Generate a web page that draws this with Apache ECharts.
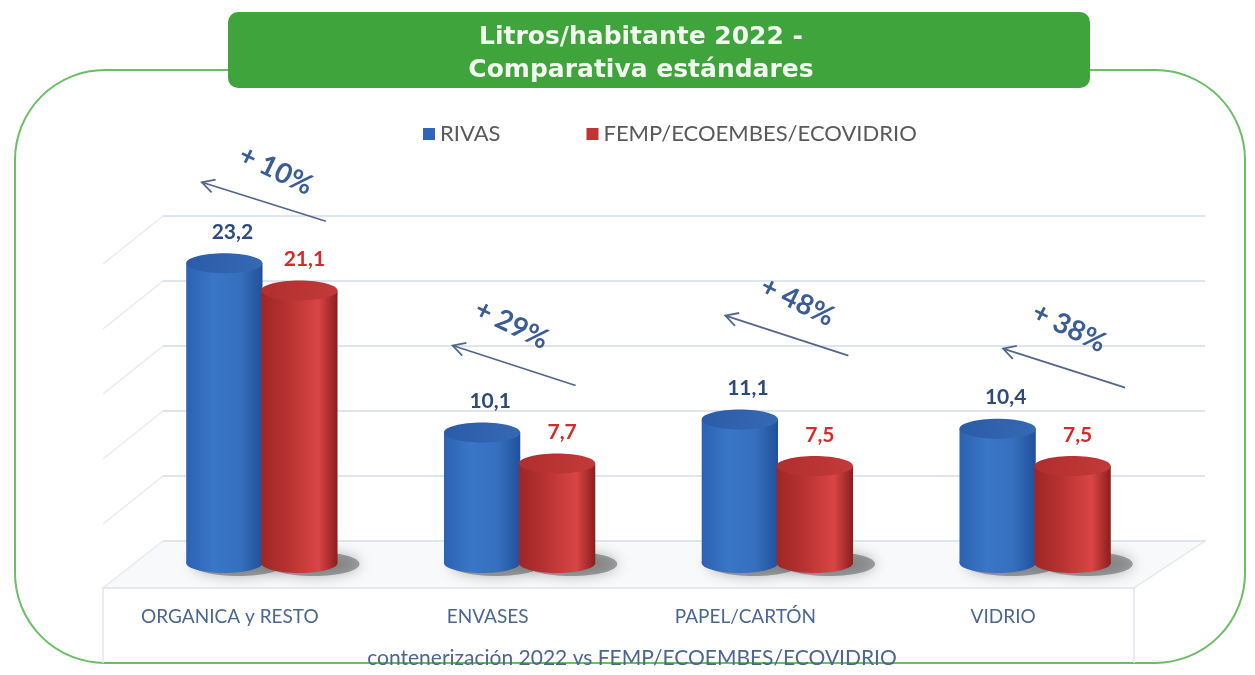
<!DOCTYPE html>
<html>
<head>
<meta charset="utf-8">
<script src="https://cdn.jsdelivr.net/npm/echarts@6/dist/echarts.min.js"></script>
<style>
html,body{margin:0;padding:0;background:#ffffff;}
#chart{width:1255px;height:675px;}
</style>
</head>
<body>
<div id="chart"></div>
<script>
// ---- data ----
const categories = ['ORGANICA y RESTO', 'ENVASES', 'PAPEL/CARTÓN', 'VIDRIO'];
const rivas = [23.2, 10.1, 11.1, 10.4];
const femp = [21.1, 7.7, 7.5, 7.5];
const increments = ['+ 10%', '+ 29%', '+ 48%', '+ 38%'];
const seriesNames = ['RIVAS', 'FEMP/ECOEMBES/ECOVIDRIO'];
const titleLines = ['Litros/habitante 2022 -', 'Comparativa estándares'];
const footnote = 'contenerización 2022 vs FEMP/ECOEMBES/ECOVIDRIO';
const axisMax = 25;
const axisStep = 5;

// ---- layout / style (not data) ----
const annotOffsets = [ // relative to (category centre, top of RIVAS cylinder)
  {t:[14, -93], h:[-60, -81], e:[64, -42]},
  {t:[-8, -108], h:[-67, -87], e:[56, -47]},
  {t:[20, -118], h:[-52, -104], e:[71, -64]},
  {t:[34, -101], h:[-32, -80], e:[90, -41]}
];
const labelColors = ['#2d4a78', '#d42a2a'];
const bodyStops = [
  [[0,'#2c62b2'],[0.35,'#3a76c6'],[0.7,'#3570bf'],[1,'#22509a']],
  [[0,'#9e2626'],[0.35,'#b83232'],[0.75,'#d94545'],[1,'#8c1e1e']]
];
const topFill = ['#2a5ba8', '#b02e2e'];
const legendColors = ['#2e66b8', '#c03434'];

function fmt(v){ return v.toFixed(1).replace('.', ','); }

function renderCyl(params, api){
  const si = params.seriesIndex;
  const cat = api.value(0), v = api.value(1);
  const band = api.size([1,0])[0];
  const w = band * 0.296;
  const base = api.coord([cat, 0]);
  const cx = base[0] + (si === 0 ? -1 : 1) * band * 0.1455;
  const yTop = api.coord([cat, v])[1];
  const yBot = base[1];
  const rx = w / 2, ry = 10;
  const grad = {type:'linear', x:0, y:0, x2:1, y2:0,
    colorStops: bodyStops[si].map(s => ({offset:s[0], color:s[1]}))};
  return {
    type:'group',
    children:[
      {type:'ellipse', shape:{cx:cx+14, cy:yBot+1, rx:rx+8, ry:ry+2},
       style:{fill:'rgba(80,80,80,0.5)', shadowBlur:14, shadowColor:'rgba(0,0,0,0.55)'}, z2:0},
      {type:'ellipse', shape:{cx:cx, cy:yBot, rx:rx, ry:ry}, style:{fill:grad}, z2:1},
      {type:'rect', shape:{x:cx-rx, y:yTop, width:w, height:yBot-yTop}, style:{fill:grad}, z2:2},
      {type:'ellipse', shape:{cx:cx, cy:yTop, rx:rx, ry:ry},
       style:{fill:{type:'linear', x:0, y:0, x2:1, y2:1, colorStops:[
         {offset:0, color:topFill[si]}, {offset:1, color: si===0 ? '#3669b4' : '#c43a3a'}]}}, z2:3},
      {type:'text', z2:4, style:{text: fmt(v), x: cx + (si===0 ? 8 : 5), y: yTop - ry - 21,
        align:'center', verticalAlign:'middle', fill: labelColors[si],
        font:'bold 21px Lato'}}
    ]
  };
}

const chart = echarts.init(document.getElementById('chart'), null, {renderer:'canvas'});
const backGrid = {left:163, right:50, top:216, bottom:134};
const barGrid = {left:133, right:91, top:240, bottom:112};

chart.setOption({
  animation:false,
  backgroundColor:'#ffffff',
  title:[
    {text: titleLines.join('\n'), left:641, textAlign:'center', top:21, padding:0,
     textStyle:{color:'#f2f8ef', fontFamily:'DejaVu Sans', fontSize:25, fontWeight:'bold', lineHeight:33}},
    {text: footnote, left:632, textAlign:'center', top:648, padding:0,
     textStyle:{color:'#4a6792', fontFamily:'Lato', fontSize:21, fontWeight:'normal'}}
  ],
  legend:{
    top:118, left:418, itemWidth:12, itemHeight:12, itemGap:86, icon:'rect',
    data: seriesNames,
    textStyle:{color:'#595959', fontFamily:'Lato', fontSize:22}
  },
  grid:[
    Object.assign({}, backGrid),
    Object.assign({}, barGrid)
  ],
  xAxis:[
    {type:'category', gridIndex:0, data:categories, show:false},
    {type:'category', gridIndex:1, data:categories,
     axisLine:{show:false}, axisTick:{show:false},
     axisLabel:{margin:44, color:'#4a6792', fontFamily:'Lato', fontSize:19, padding:[0,64,0,0]}}
  ],
  yAxis:[
    {type:'value', gridIndex:0, min:0, max:axisMax, interval:axisStep,
     axisLine:{show:false}, axisTick:{show:false}, axisLabel:{show:false},
     splitLine:{lineStyle:{color:'#dfe5ec', width:2}}},
    {type:'value', gridIndex:1, min:0, max:axisMax, show:false, splitLine:{show:false}}
  ],
  series:[
    {name: seriesNames[0], type:'custom', xAxisIndex:1, yAxisIndex:1,
     itemStyle:{color:legendColors[0]}, renderItem: renderCyl,
     data: rivas.map((v,i) => [i, v])},
    {name: seriesNames[1], type:'custom', xAxisIndex:1, yAxisIndex:1,
     itemStyle:{color:legendColors[1]}, renderItem: renderCyl,
     data: femp.map((v,i) => [i, v])}
  ]
});

// ---- decorations computed from the axes ----
const gfx = [];
gfx.push({type:'rect', z:-10, silent:true, shape:{x:15, y:70, width:1230, height:593, r:90},
  style:{fill:'none', stroke:'#6bbd66', lineWidth:2}});
gfx.push({type:'rect', z:-5, silent:true, shape:{x:228, y:12, width:862, height:76, r:10},
  style:{fill:'#40a43d'}});
const yZeroBack = chart.convertToPixel({yAxisIndex:0}, 0);
const bx0 = backGrid.left, bx1 = 1255 - backGrid.right;
const floorFront = yZeroBack + 47;
gfx.push({type:'polygon', z:-8, silent:true,
  shape:{points:[[bx0,yZeroBack],[bx1,yZeroBack],[1134,floorFront],[103,floorFront]]},
  style:{fill:'#f7f9fb', stroke:'#e6ebf0', lineWidth:1.5}});
gfx.push({type:'polyline', z:-8, silent:true,
  shape:{points:[[103,663],[103,floorFront],[1134,floorFront],[1134,663]]},
  style:{stroke:'#e1e7ee', lineWidth:1.5, fill:'none'}});
for (let v = axisStep; v <= axisMax; v += axisStep){
  const y = chart.convertToPixel({yAxisIndex:0}, v);
  gfx.push({type:'line', z:-8, silent:true, shape:{x1:bx0, y1:y, x2:bx0-60, y2:y+48},
    style:{stroke:'#e6ebf0', lineWidth:1.5}});
}
categories.forEach((c, i) => {
  const p = chart.convertToPixel({xAxisIndex:1, yAxisIndex:1}, [i, rivas[i]]);
  const o = annotOffsets[i];
  const hx = p[0]+o.h[0], hy = p[1]+o.h[1], ex = p[0]+o.e[0], ey = p[1]+o.e[1];
  gfx.push({type:'line', z:5, silent:true, shape:{x1:ex, y1:ey, x2:hx, y2:hy},
    style:{stroke:'#54678a', lineWidth:1.8}});
  const ang = Math.atan2(ey-hy, ex-hx), L = 14, a = 0.5;
  gfx.push({type:'polyline', z:5, silent:true,
    shape:{points:[[hx+L*Math.cos(ang-a), hy+L*Math.sin(ang-a)],[hx,hy],[hx+L*Math.cos(ang+a), hy+L*Math.sin(ang+a)]]},
    style:{stroke:'#54678a', lineWidth:1.8, fill:'none'}});
  gfx.push({type:'text', z:5, silent:true, x:p[0]+o.t[0], y:p[1]+o.t[1], rotation:-26*Math.PI/180,
    style:{text:increments[i], align:'center', verticalAlign:'middle', fill:'#3b5d95',
      font:'bold 28px Lato'}});
});
chart.setOption({graphic: gfx});
</script>
</body>
</html>
